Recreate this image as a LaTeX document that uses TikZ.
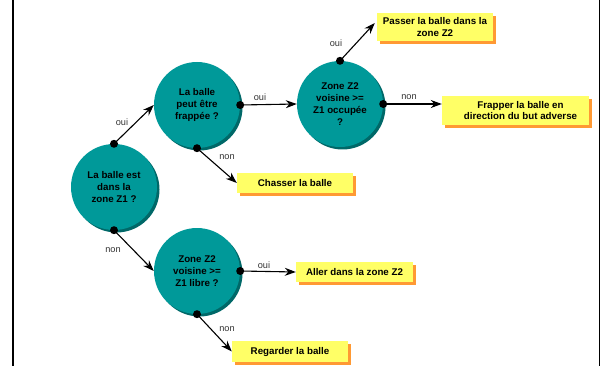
\documentclass[tikz,border=0pt]{standalone}
\usepackage{fontspec}
\setmainfont{Liberation Sans}
\usetikzlibrary{arrows.meta, shadows}

\definecolor{tealfill}{RGB}{0,153,153}
\definecolor{tealshade}{RGB}{0,104,104}
\definecolor{boxyellow}{RGB}{255,255,102}
\definecolor{boxorange}{RGB}{255,153,51}

\tikzset{
  question/.style={circle, fill=tealfill, minimum size=86pt, inner sep=0pt, align=center,
    font=\fontsize{9.75}{11.8}\selectfont\bfseries,
    drop shadow={shadow xshift=2.5pt, shadow yshift=-2.5pt, fill=tealshade, opacity=1}},
  action/.style={rectangle, fill=boxyellow, inner sep=0pt, align=center,
    font=\fontsize{9.75}{11.8}\selectfont\bfseries,
    drop shadow={shadow xshift=3pt, shadow yshift=-3pt, fill=boxorange, opacity=1}},
  answer/.style={font=\fontsize{9.2}{10}\selectfont, text=black!80, inner sep=0pt},
  flow/.style={-{Stealth[length=11pt, width=8pt, inset=3.5pt]}, line width=1.1pt},
}

\begin{document}
\begin{tikzpicture}[x=1pt, y=-1pt]
      \useasboundingbox (0,0) rectangle (602,366);
      \draw[line width=2pt] (13,0) -- (13,366);
      \draw[line width=1.5pt] (599.5,0) -- (599.5,366);

      \node[question] (zone1) at (114,187) {La balle est\\dans la\\zone Z1 ?};
      \node[question] (frap) at (197,105) {La balle\\peut être\\frappée ?};
      \node[question] (occup) at (340,104) {Zone Z2\\voisine >=\\Z1 occupée\\?};
      \node[question] (libre) at (197,271) {Zone Z2\\voisine >=\\Z1 libre ?};

      \node[action, minimum width=116pt, minimum height=28pt] (passer) at (435,27) {Passer la balle dans la\\zone Z2};
      \node[action, minimum width=147pt, minimum height=29pt] (frapper) at (515.5,110.5) {\hspace*{10pt}Frapper la balle en\\\hspace*{10pt}direction du but adverse};
      \node[action, minimum width=116pt, minimum height=20pt] (chasser) at (295,183) {Chasser la balle};
      \node[action, minimum width=117pt, minimum height=20pt] (aller) at (354.5,272) {Aller dans la zone Z2};
      \node[action, minimum width=116pt, minimum height=21pt] (regarder) at (290,351.5) {Regarder la balle};

      \draw[flow] (zone1.north) -- (frap.west);
      \draw[flow] (zone1.south) -- (libre.west);
      \draw[flow] (frap.east) -- (occup.west);
      \draw[flow] (frap.south) -- (chasser.west);
      \draw[flow] (occup.north) -- ([xshift=-2pt, yshift=4pt]passer.west);
      \draw[flow] (occup.east) -- (occup.east -| frapper.west);
      \draw[flow] (libre.east) -- (aller.west);
      \draw[flow] (libre.south) -- (regarder.west);

      \foreach \dot in {zone1.north, zone1.south, frap.east, frap.south, occup.north, occup.east, libre.east, libre.south}
        \fill (\dot) circle (4pt);

      \node[answer] (a1) at (122,122) {oui};
      \node[answer] (a2) at (260,97) {oui};
      \node[answer] (a3) at (227,157) {non};
      \node[answer] (a4) at (336,43) {oui};
      \node[answer] (a5) at (409,97) {non};
      \node[answer] (a6) at (113,250) {non};
      \node[answer] (a7) at (264,265) {oui};
      \node[answer] (a8) at (227,329) {non};
    \end{tikzpicture}
\end{document}
